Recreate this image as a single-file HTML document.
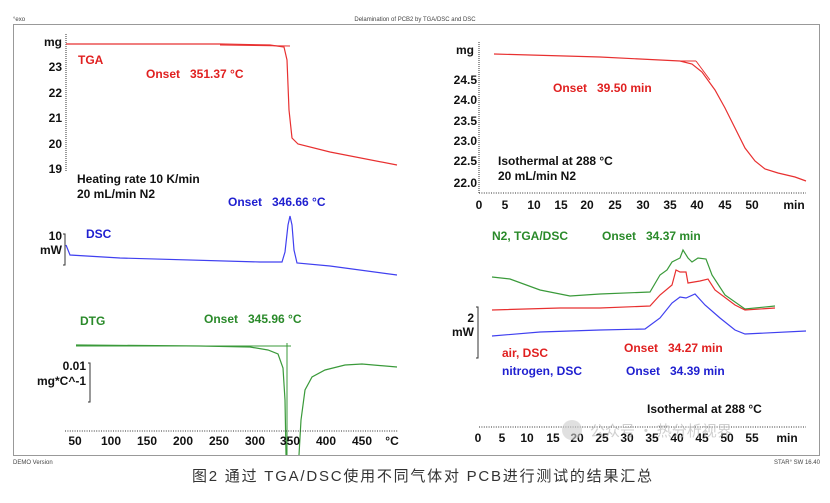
<!DOCTYPE html>
<html><head><meta charset="utf-8"><style>
body{margin:0;background:#fff;width:830px;height:498px;overflow:hidden}
svg{font-family:"Liberation Sans",Arial,sans-serif}
.b{font-weight:bold;font-size:12px}
</style></head><body>
<svg width="830" height="498" viewBox="0 0 830 498">
<text x="13" y="21" font-size="6" fill="#444">°exo</text>
<text x="415" y="21" font-size="6" fill="#444" text-anchor="middle">Delamination of PCB2 by TGA/DSC and DSC</text>
<rect x="13.5" y="24.5" width="806" height="431" fill="none" stroke="#999" stroke-width="1"/>
<text x="13" y="464" font-size="6" fill="#444">DEMO Version</text>
<text x="820" y="464" font-size="6" fill="#444" text-anchor="end">STAR° SW 16.40</text>
<text x="192" y="481" font-size="15" fill="#333" textLength="460" lengthAdjust="spacing" font-family="Liberation Sans,Noto Sans CJK SC,sans-serif">图2 通过 TGA/DSC使用不同气体对 PCB进行测试的结果汇总</text>

<!-- LEFT -->
<g class="b" fill="#111">
<text x="62" y="46" text-anchor="end">mg</text>
<text x="62" y="71" text-anchor="end">23</text>
<text x="62" y="97" text-anchor="end">22</text>
<text x="62" y="122" text-anchor="end">21</text>
<text x="62" y="148" text-anchor="end">20</text>
<text x="62" y="173" text-anchor="end">19</text>
<text x="77" y="183">Heating rate 10 K/min</text>
<text x="77" y="198">20 mL/min N2</text>
<text x="62" y="240" text-anchor="end">10</text>
<text x="62" y="254" text-anchor="end">mW</text>
<text x="86" y="370" text-anchor="end">0.01</text>
<text x="86" y="385" text-anchor="end">mg*C^-1</text>
</g>
<line x1="66" y1="34" x2="66" y2="172" stroke="#333" stroke-dasharray="1,1"/>
<path d="M63 234h2v31h-2M88 363h2v39h-2" fill="none" stroke="#333"/>
<g class="b" fill="#e02020"><text x="78" y="64">TGA</text><text x="146" y="78">Onset&#160;&#160;&#160;351.37 °C</text></g>
<g class="b" fill="#2020d0"><text x="86" y="238">DSC</text><text x="228" y="206">Onset&#160;&#160;&#160;346.66 °C</text></g>
<g class="b" fill="#2a8a2a"><text x="80" y="325">DTG</text><text x="204" y="323">Onset&#160;&#160;&#160;345.96 °C</text></g>
<path d="M66 44 L220 44 L270 45 L284 47 L287 60 L289 110 L292 138 L298 144 L330 152 L397 165" fill="none" stroke="#e83030" stroke-width="1.2"/>
<line x1="220" y1="45" x2="290" y2="46" stroke="#e83030"/>
<path d="M66 245 L70 255 L120 258 L260 262 L282 262 L285 252 L288 225 L290 216 L292 225 L294 250 L297 263 L330 266 L397 275" fill="none" stroke="#4040f0" stroke-width="1.2"/>
<path d="M76 345 L200 346 L250 347 L268 350 L278 354 L283 368 L285 400 L286 455 M299 455 L301 420 L305 390 L312 377 L325 370 L345 365 L362 364 L397 367" fill="none" stroke="#3a9a3a" stroke-width="1.2"/>
<line x1="76" y1="346" x2="291" y2="346" stroke="#3a9a3a"/>
<line x1="287" y1="343" x2="287" y2="455" stroke="#3a9a3a"/>
<line x1="65" y1="431" x2="398" y2="431" stroke="#333" stroke-dasharray="1,1.4"/>
<g class="b" fill="#111" text-anchor="middle">
<text x="75" y="445">50</text><text x="111" y="445">100</text><text x="147" y="445">150</text><text x="183" y="445">200</text><text x="219" y="445">250</text><text x="255" y="445">300</text><text x="290" y="445">350</text><text x="326" y="445">400</text><text x="362" y="445">450</text><text x="392" y="445">°C</text>
</g>

<!-- RIGHT TOP -->
<g class="b" fill="#111" text-anchor="end">
<text x="474" y="54">mg</text><text x="477" y="84">24.5</text><text x="477" y="104">24.0</text><text x="477" y="125">23.5</text><text x="477" y="145">23.0</text><text x="477" y="165">22.5</text><text x="477" y="187">22.0</text>
</g>
<line x1="479" y1="42" x2="479" y2="193" stroke="#333" stroke-dasharray="1,1"/>
<line x1="479" y1="193" x2="806" y2="193" stroke="#333" stroke-dasharray="1,1.4"/>
<g class="b" fill="#111" text-anchor="middle">
<text x="479" y="209">0</text><text x="505" y="209">5</text><text x="534" y="209">10</text><text x="561" y="209">15</text><text x="587" y="209">20</text><text x="615" y="209">25</text><text x="643" y="209">30</text><text x="670" y="209">35</text><text x="697" y="209">40</text><text x="725" y="209">45</text><text x="752" y="209">50</text><text x="794" y="209">min</text>
</g>
<text class="b" x="553" y="92" fill="#e02020">Onset&#160;&#160;&#160;39.50 min</text>
<g class="b" fill="#111"><text x="498" y="165">Isothermal at 288 °C</text><text x="498" y="180">20 mL/min N2</text></g>
<path d="M494 54 L600 57 L680 61 L692 64 L702 72 L715 90 L725 108 L735 128 L745 148 L755 161 L765 169 L778 173 L795 177 L806 181" fill="none" stroke="#e83030" stroke-width="1.2"/>
<line x1="680" y1="61" x2="696" y2="61" stroke="#e83030"/><line x1="696" y1="61" x2="710" y2="80" stroke="#e83030"/>

<!-- RIGHT BOTTOM -->
<g class="b" fill="#2a8a2a"><text x="492" y="240">N2, TGA/DSC</text><text x="602" y="240">Onset&#160;&#160;&#160;34.37 min</text></g>
<g class="b" fill="#e02020"><text x="502" y="357">air, DSC</text><text x="624" y="352">Onset&#160;&#160;&#160;34.27 min</text></g>
<g class="b" fill="#2020d0"><text x="502" y="375">nitrogen, DSC</text><text x="626" y="375">Onset&#160;&#160;&#160;34.39 min</text></g>
<g class="b" fill="#111"><text x="474" y="322" text-anchor="end">2</text><text x="474" y="336" text-anchor="end">mW</text><text x="647" y="413">Isothermal at 288 °C</text></g>
<path d="M476 307h2v51h-2" fill="none" stroke="#333"/>
<path d="M492 277 L510 279 L540 290 L570 296 L600 294 L650 292 L660 275 L667 270 L672 262 L680 258 L683 250 L688 258 L692 262 L698 258 L706 259 L712 275 L725 295 L745 309 L775 306" fill="none" stroke="#3a9a3a" stroke-width="1.2"/>
<path d="M492 310 L560 308 L600 308 L650 306 L660 295 L672 285 L676 270 L680 272 L686 272 L688 283 L700 281 L708 279 L715 290 L735 305 L745 310 L775 308" fill="none" stroke="#e83030" stroke-width="1.2"/>
<path d="M492 336 L540 332 L600 330 L645 329 L660 318 L672 303 L680 297 L686 298 L695 294 L705 305 L720 318 L735 330 L745 334 L806 331" fill="none" stroke="#4040f0" stroke-width="1.2"/>
<line x1="479" y1="427" x2="806" y2="427" stroke="#333" stroke-dasharray="1,1.4"/>
<g class="b" fill="#111" text-anchor="middle">
<text x="478" y="442">0</text><text x="502" y="442">5</text><text x="527" y="442">10</text><text x="553" y="442">15</text><text x="577" y="442">20</text><text x="602" y="442">25</text><text x="627" y="442">30</text><text x="652" y="442">35</text><text x="677" y="442">40</text><text x="702" y="442">45</text><text x="727" y="442">50</text><text x="752" y="442">55</text><text x="787" y="442">min</text>
</g>
<circle cx="572" cy="430" r="10" fill="#ccc" opacity="0.6"/>
<text x="590" y="436" font-size="15" fill="#bbb" opacity="0.7" font-family="Noto Sans CJK SC,sans-serif">公众号 · 热分析视界</text>
</svg>
</body></html>
